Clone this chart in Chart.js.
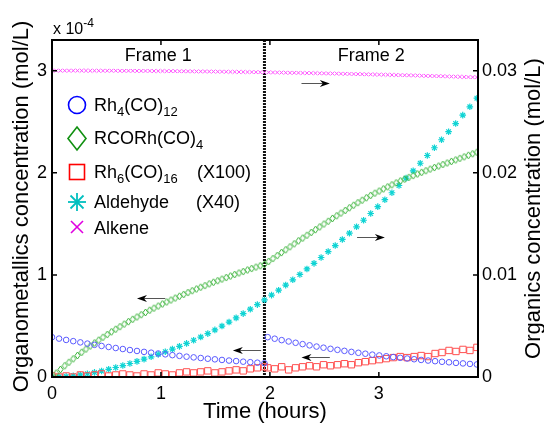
<!DOCTYPE html>
<html>
<head>
<meta charset="utf-8">
<script src="https://cdn.jsdelivr.net/npm/chart.js@4.4.0/dist/chart.umd.min.js"></script>
<style>
  body { margin: 0; background: #fff; }
  #wrap { position: relative; width: 544px; height: 423px; font-family: "Liberation Sans", Arial, sans-serif; color: #000; }
  #chart { position: absolute; left: 0; top: 0; }
  #marks { position: absolute; left: 0; top: 0; }
  .lg { position: absolute; font-size: 18px; line-height: 18px; white-space: nowrap; }
  .lg sub { font-size: 13px; line-height: 0; vertical-align: -5px; }
  #mult { position: absolute; left: 53px; top: 21px; font-size: 16px; line-height: 16px; white-space: nowrap; }
  #mult sup { font-size: 12px; line-height: 0; vertical-align: 7px; }
</style>
</head>
<body>
<div id="wrap">
  <canvas id="chart" width="544" height="423"></canvas>
  <svg id="marks" width="544" height="423">
    <circle cx="77" cy="105" r="8.5" fill="none" stroke="#0000ff" stroke-width="1.6"/>
    <polygon points="77,127 86,138.5 77,150 68,138.5" fill="none" stroke="#109010" stroke-width="1.6"/>
    <rect x="69.5" y="164.5" width="15" height="15" fill="none" stroke="#ff0000" stroke-width="1.6"/>
    <g stroke="#00bfbf" stroke-width="1.8">
      <line x1="77" y1="193" x2="77" y2="211"/>
      <line x1="68" y1="202" x2="86" y2="202"/>
      <line x1="70.5" y1="195.5" x2="83.5" y2="208.5"/>
      <line x1="70.5" y1="208.5" x2="83.5" y2="195.5"/>
    </g>
    <g stroke="#e000e0" stroke-width="1.6">
      <line x1="71" y1="221" x2="83" y2="233"/>
      <line x1="71" y1="233" x2="83" y2="221"/>
    </g>
  </svg>
  <div class="lg" style="left:94px;top:96px">Rh<sub>4</sub>(CO)<sub>12</sub></div>
  <div class="lg" style="left:94px;top:129px">RCORh(CO)<sub>4</sub></div>
  <div class="lg" style="left:94px;top:163px">Rh<sub>6</sub>(CO)<sub>16</sub></div>
  <div class="lg" style="left:197px;top:163px">(X100)</div>
  <div class="lg" style="left:94px;top:193px">Aldehyde</div>
  <div class="lg" style="left:196px;top:193px">(X40)</div>
  <div class="lg" style="left:94px;top:219px">Alkene</div>
  <div id="mult">x 10<sup>-4</sup></div>
</div>
<script>
// sampling times (hours)
function grid(start, step, n) {
  var out = [];
  for (var i = 0; i < n; i++) out.push(+(start + i * step).toFixed(4));
  return out;
}
var tFrame1 = grid(0, 0.065, 31);     // frame 1 samples, 0 .. 1.95 h
var tFrame2 = grid(1.98, 0.064, 31);  // frame 2 samples, 1.98 .. 3.90 h
var tFine = grid(0, 0.039, 101);      // dense samples, 0 .. 3.90 h
var tAld = grid(0, 0.065, 61);        // aldehyde samples, 0 .. 3.90 h

var frameSplit = 1.95;

// organometallics, x 10^-4 mol/L (left axis)
var rh4Frame1 = [0.390, 0.376, 0.363, 0.351, 0.339, 0.327, 0.315, 0.304, 0.294, 0.284, 0.274,
  0.264, 0.255, 0.246, 0.238, 0.230, 0.222, 0.214, 0.207, 0.199, 0.192,
  0.186, 0.179, 0.173, 0.167, 0.161, 0.156, 0.150, 0.145, 0.140, 0.135];
var rh4Frame2 = [0.390, 0.375, 0.361, 0.348, 0.335, 0.322, 0.310, 0.298, 0.287, 0.276, 0.266,
  0.256, 0.246, 0.237, 0.228, 0.219, 0.211, 0.203, 0.195, 0.188, 0.181,
  0.174, 0.167, 0.161, 0.155, 0.149, 0.144, 0.138, 0.133, 0.128, 0.123];

var rh6Frame1 = [0.01, 0.00, 0.01, 0.00, 0.02, 0.01, 0.02, 0.03, 0.01, 0.02, 0.03,
  0.02, 0.01, 0.03, 0.02, 0.04, 0.03, 0.02, 0.04, 0.05, 0.04,
  0.05, 0.06, 0.04, 0.05, 0.06, 0.07, 0.06, 0.08, 0.09, 0.10];
var rh6Frame2 = [0.09, 0.08, 0.10, 0.07, 0.09, 0.10, 0.11, 0.10, 0.12, 0.11, 0.12,
  0.13, 0.12, 0.14, 0.15, 0.16, 0.17, 0.18, 0.19, 0.20, 0.19,
  0.20, 0.21, 0.20, 0.23, 0.24, 0.26, 0.25, 0.27, 0.26, 0.29];

var rcorh = [0.000, 0.038, 0.074, 0.110, 0.144, 0.178, 0.211, 0.242, 0.273, 0.303, 0.333,
  0.361, 0.389, 0.416, 0.442, 0.468, 0.493, 0.518, 0.542, 0.565, 0.588,
  0.610, 0.632, 0.654, 0.674, 0.695, 0.715, 0.735, 0.754, 0.773, 0.791,
  0.809, 0.827, 0.845, 0.862, 0.879, 0.895, 0.912, 0.928, 0.943, 0.959,
  0.974, 0.989, 1.004, 1.019, 1.033, 1.048, 1.062, 1.076, 1.089, 1.103,
  1.132, 1.160, 1.189, 1.218, 1.246, 1.275, 1.304, 1.333, 1.360, 1.388,
  1.415, 1.443, 1.470, 1.498, 1.525, 1.553, 1.579, 1.605, 1.631, 1.657,
  1.682, 1.707, 1.731, 1.755, 1.778, 1.800, 1.821, 1.842, 1.862, 1.882,
  1.901, 1.920, 1.938, 1.955, 1.972, 1.988, 2.004, 2.020, 2.036, 2.051,
  2.066, 2.081, 2.096, 2.111, 2.126, 2.141, 2.156, 2.171, 2.186, 2.201];

// organics, mol/L (right axis); aldehyde already multiplied by 40
var aldehyde = [0.00000, 0.00002, 0.00006, 0.00012, 0.00021, 0.00032, 0.00045, 0.00059, 0.00075, 0.00093,
  0.00112, 0.00132, 0.00153, 0.00175, 0.00198, 0.00222, 0.00247, 0.00273, 0.00300, 0.00329,
  0.00360, 0.00391, 0.00425, 0.00461, 0.00499, 0.00538, 0.00579, 0.00621, 0.00664, 0.00709,
  0.00755, 0.00802, 0.00850, 0.00900, 0.00952, 0.01004, 0.01058, 0.01113, 0.01170, 0.01228,
  0.01287, 0.01347, 0.01408, 0.01471, 0.01535, 0.01601, 0.01668, 0.01736, 0.01804, 0.01875,
  0.01947, 0.02019, 0.02093, 0.02169, 0.02245, 0.02323, 0.02402, 0.02482, 0.02564, 0.02646,
  0.02730];

var alkene = [0.03000, 0.03000, 0.03000, 0.03000, 0.03000, 0.03000, 0.03000, 0.03000, 0.03000, 0.02999,
  0.02999, 0.02999, 0.02999, 0.02999, 0.02999, 0.02999, 0.02998, 0.02998, 0.02998, 0.02998,
  0.02997, 0.02997, 0.02997, 0.02997, 0.02996, 0.02996, 0.02996, 0.02995, 0.02995, 0.02995,
  0.02994, 0.02994, 0.02993, 0.02993, 0.02992, 0.02992, 0.02992, 0.02991, 0.02991, 0.02990,
  0.02990, 0.02989, 0.02988, 0.02988, 0.02987, 0.02987, 0.02986, 0.02986, 0.02985, 0.02984,
  0.02984, 0.02983, 0.02982, 0.02982, 0.02981, 0.02980, 0.02979, 0.02979, 0.02978, 0.02977,
  0.02976, 0.02976, 0.02975, 0.02974, 0.02973, 0.02972, 0.02972, 0.02971, 0.02970, 0.02969,
  0.02968, 0.02967, 0.02966, 0.02965, 0.02964, 0.02963, 0.02962, 0.02961, 0.02960, 0.02959,
  0.02958, 0.02957, 0.02956, 0.02955, 0.02954, 0.02953, 0.02952, 0.02950, 0.02949, 0.02948,
  0.02947, 0.02946, 0.02945, 0.02943, 0.02942, 0.02941, 0.02940, 0.02938, 0.02937, 0.02936,
  0.02935];

var yTicks = [0, 1, 2, 3];
var y2Ticks = [0, 0.01, 0.02, 0.03];
var xTicks = [0, 1, 2, 3];

// arrows point each curve to its axis: [x from, x to, y, axis]
var arrows = [
  [1.04, 0.78, 0.77, 'y'],
  [1.92, 1.66, 0.265, 'y'],
  [2.55, 2.29, 0.20, 'y'],
  [2.29, 2.55, 0.0288, 'y2'],
  [2.80, 3.055, 0.01375, 'y2']
];

function pairs(xs, ys) {
  return xs.map(function(x, i) { return { x: x, y: ys[i] }; });
}

function diamondImage(w, h, color) {
  var c = document.createElement('canvas');
  c.width = w + 2;
  c.height = h + 2;
  var g = c.getContext('2d');
  g.strokeStyle = color;
  g.lineWidth = 1;
  g.beginPath();
  g.moveTo(c.width / 2, 1);
  g.lineTo(c.width - 1, c.height / 2);
  g.lineTo(c.width / 2, c.height - 1);
  g.lineTo(1, c.height / 2);
  g.closePath();
  g.stroke();
  return c;
}

var font = '"Liberation Sans", Arial, sans-serif';

var framePlugin = {
  id: 'framePlugin',
  beforeDatasetsDraw: function(chart) {
    var ctx = chart.ctx, a = chart.chartArea;
    var xs = chart.scales.x.getPixelForValue(frameSplit);
    ctx.save();
    ctx.strokeStyle = '#111';
    ctx.lineWidth = 3;
    ctx.setLineDash([2, 1]);
    ctx.beginPath();
    ctx.moveTo(xs, a.top);
    ctx.lineTo(xs, a.bottom);
    ctx.stroke();
    ctx.restore();
  },
  afterDraw: function(chart) {
    var ctx = chart.ctx, a = chart.chartArea;
    var sx = chart.scales.x, sy = chart.scales.y, sy2 = chart.scales.y2;
    ctx.save();

    // box and inward ticks
    ctx.strokeStyle = '#000';
    ctx.lineWidth = 2;
    ctx.strokeRect(a.left, a.top, a.right - a.left, a.bottom - a.top);
    ctx.lineWidth = 1.5;
    ctx.beginPath();
    xTicks.forEach(function(v) {
      var p = sx.getPixelForValue(v);
      ctx.moveTo(p, a.bottom); ctx.lineTo(p, a.bottom - 5);
      ctx.moveTo(p, a.top); ctx.lineTo(p, a.top + 5);
    });
    yTicks.forEach(function(v) {
      var p = sy.getPixelForValue(v);
      ctx.moveTo(a.left, p); ctx.lineTo(a.left + 5, p);
    });
    y2Ticks.forEach(function(v) {
      var p = sy2.getPixelForValue(v);
      ctx.moveTo(a.right, p); ctx.lineTo(a.right - 5, p);
    });
    ctx.stroke();

    // frame labels
    var xs = sx.getPixelForValue(frameSplit);
    ctx.fillStyle = '#000';
    ctx.font = '18px ' + font;
    ctx.textAlign = 'center';
    ctx.textBaseline = 'middle';
    ctx.fillText('Frame 1', (a.left + xs) / 2, a.top + 16);
    ctx.fillText('Frame 2', (xs + a.right) / 2, a.top + 16);

    // arrows
    arrows.forEach(function(r) {
      var s = chart.scales[r[3]];
      var x0 = sx.getPixelForValue(r[0]), x1 = sx.getPixelForValue(r[1]);
      var y = Math.round(s.getPixelForValue(r[2])) + 0.5;
      var dir = x1 > x0 ? 1 : -1;
      ctx.strokeStyle = '#555';
      ctx.lineWidth = 1;
      ctx.beginPath();
      ctx.moveTo(x0, y);
      ctx.lineTo(x1 - dir * 4, y);
      ctx.stroke();
      ctx.fillStyle = '#000';
      ctx.beginPath();
      ctx.moveTo(x1, y);
      ctx.lineTo(x1 - dir * 10, y - 3.5);
      ctx.lineTo(x1 - dir * 7, y);
      ctx.lineTo(x1 - dir * 10, y + 3.5);
      ctx.closePath();
      ctx.fill();
    });

    // vertical axis titles, both reading bottom to top
    var cy = (a.top + a.bottom) / 2;
    ctx.font = '22px ' + font;
    ctx.fillStyle = '#000';
    ctx.textBaseline = 'middle';
    ctx.textAlign = 'center';
    ctx.save();
    ctx.translate(22, cy - 2);
    ctx.rotate(-Math.PI / 2);
    ctx.fillText('Organometallics concentration (mol/L)', 0, 0);
    ctx.restore();
    ctx.save();
    ctx.translate(534, cy);
    ctx.rotate(-Math.PI / 2);
    ctx.fillText('Organics concentration (mol/L)', 0, 0);
    ctx.restore();

    ctx.restore();
  }
};

var tickFont = { family: font, size: 18 };

var ctx = document.getElementById('chart').getContext('2d');
var chart = new Chart(ctx, {
  type: 'scatter',
  data: {
    datasets: [
      {
        label: 'Rh4(CO)12',
        data: pairs(tFrame1.concat(tFrame2), rh4Frame1.concat(rh4Frame2)),
        yAxisID: 'y',
        pointStyle: 'circle',
        pointRadius: 2.8,
        borderColor: '#5a5aff',
        backgroundColor: 'rgba(0,0,0,0)',
        borderWidth: 1
      },
      {
        label: 'RCORh(CO)4',
        data: pairs(tFine, rcorh),
        yAxisID: 'y',
        pointStyle: diamondImage(5, 7, '#3cb43c'),
        pointRadius: 3
      },
      {
        label: 'Rh6(CO)16',
        data: pairs(tFrame1.concat(tFrame2), rh6Frame1.concat(rh6Frame2)),
        yAxisID: 'y',
        pointStyle: 'rect',
        pointRadius: 4.5,
        borderColor: '#ff5050',
        backgroundColor: 'rgba(0,0,0,0)',
        borderWidth: 1
      },
      {
        label: 'Aldehyde',
        data: pairs(tAld, aldehyde),
        yAxisID: 'y2',
        pointStyle: 'star',
        pointRadius: 3.3,
        borderColor: '#10d4d4',
        backgroundColor: '#10d4d4',
        borderWidth: 1.2
      },
      {
        label: 'Alkene',
        data: pairs(tFine, alkene),
        yAxisID: 'y2',
        pointStyle: 'crossRot',
        pointRadius: 2.6,
        borderColor: '#ff50ff',
        borderWidth: 1
      }
    ]
  },
  options: {
    responsive: false,
    animation: false,
    devicePixelRatio: 1,
    layout: { padding: { top: 40, left: 0, right: 0, bottom: 0 } },
    plugins: {
      legend: { display: false },
      tooltip: { enabled: false }
    },
    scales: {
      x: {
        type: 'linear',
        min: 0,
        max: 3.91,
        afterFit: function(scale) { scale.height = 46; },
        grid: { display: false, drawTicks: false },
        border: { display: false },
        ticks: { stepSize: 1, includeBounds: false, font: tickFont, color: '#000', padding: 6 },
        title: {
          display: true,
          text: 'Time (hours)',
          color: '#000',
          font: { family: font, size: 22, lineHeight: 1 },
          padding: { top: 0, bottom: 0 }
        }
      },
      y: {
        position: 'left',
        min: 0,
        max: 3.3,
        afterFit: function(scale) { scale.width = 52; },
        grid: { display: false, drawTicks: false },
        border: { display: false },
        ticks: { stepSize: 1, includeBounds: false, font: tickFont, color: '#000', padding: 5 }
      },
      y2: {
        position: 'right',
        min: 0,
        max: 0.033,
        afterFit: function(scale) { scale.width = 66; },
        grid: { display: false, drawTicks: false },
        border: { display: false },
        ticks: {
          stepSize: 0.01,
          includeBounds: false,
          font: tickFont,
          color: '#000',
          padding: 4,
          callback: function(v) { return v === 0 ? '0' : v.toFixed(2); }
        }
      }
    }
  },
  plugins: [framePlugin]
});
</script>
</body>
</html>
